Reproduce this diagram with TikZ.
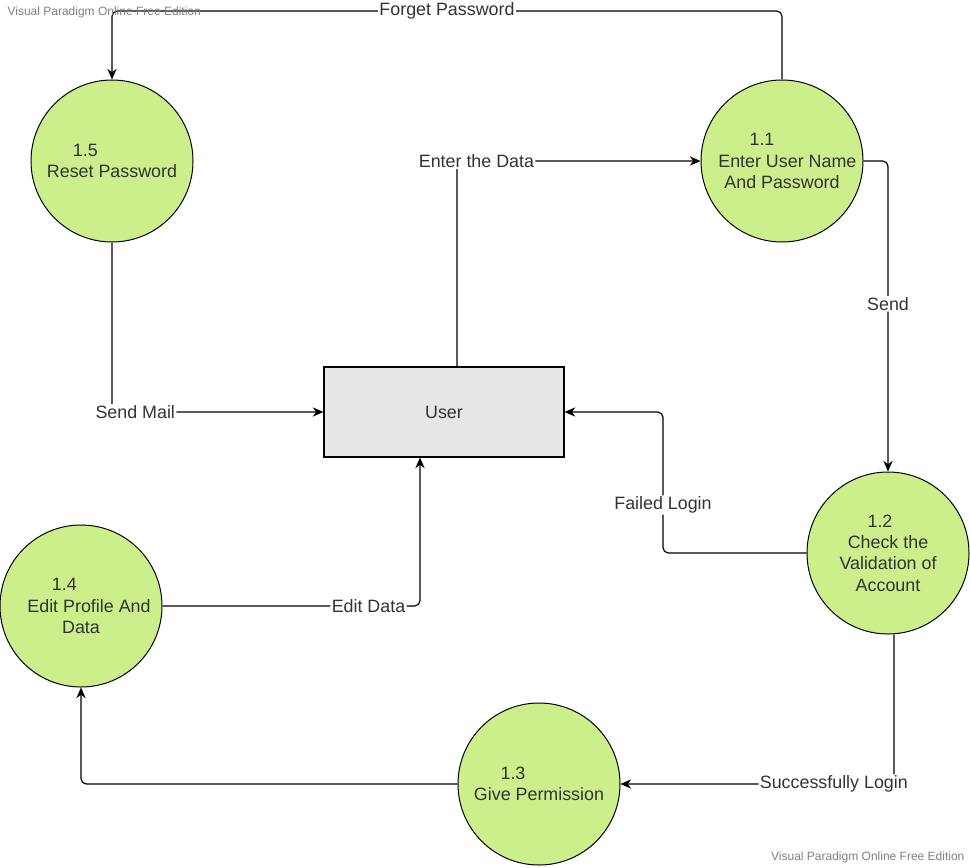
\documentclass[tikz,border=0pt]{standalone}
\usepackage{fontspec}
\setmainfont{Liberation Sans}
\usetikzlibrary{arrows.meta}
\definecolor{procgreen}{RGB}{204,239,140}
\definecolor{storegray}{RGB}{230,230,230}
\definecolor{txtgray}{RGB}{51,51,51}
\definecolor{wmgray}{RGB}{128,128,128}

\begin{document}
\begin{tikzpicture}[x=0.75pt,y=-0.75pt,line width=0.9pt,
    >={Stealth[length=8pt,width=7pt]},
    proc/.style={draw,circle,fill=procgreen,line width=0.75pt,minimum size=121.5pt,inner sep=0pt,
        align=center,text=txtgray,font=\fontsize{13.4}{16}\selectfont},
    store/.style={draw,rectangle,fill=storegray,minimum width=180pt,minimum height=67.5pt,
        text=txtgray,font=\fontsize{13.4}{16}\selectfont},
    lbl/.style={fill=white,inner sep=1pt,text=txtgray,font=\fontsize{13.4}{16}\selectfont},
    flow/.style={->,rounded corners=4pt},
    wmark/.style={inner sep=0pt,text=wmgray,font=\fontsize{9}{11}\selectfont}]

    \useasboundingbox (0,0) rectangle (970,867);

    \node[proc] (p15) at (112,161) { 1.5\hspace*{40pt}\\Reset Password };
    \node[proc] (p11) at (782,161) { 1.1\hspace*{30pt}\\\hspace*{8pt}Enter User Name\\And Password };
    \node[proc] (p12) at (888,553) { 1.2\hspace*{12pt}\\Check the\\Validation of\\Account };
    \node[proc] (p14) at (81,606) { 1.4\hspace*{25pt}\\\hspace*{12pt}Edit Profile And\\Data };
    \node[proc] (p13) at (539,784) { 1.3\hspace*{39pt}\\Give Permission };
    \node[store] (user) at (444,412) { User };

    \draw[flow] (p11.north) -- (782,11) -| node[lbl,pos=0.25] { Forget Password } (p15.north);
    \draw[flow] ([xshift=9.75pt]user.north) |- node[lbl,pos=0.54] { Enter the Data } (p11.west);
    \draw[flow] (p11.east) -| node[lbl,pos=0.73] { Send } (p12.north);
    \draw[flow] (p12.west) -- (663,553) |- node[lbl,pos=0.17] { Failed Login } (user.east);
    \draw[flow] (p15.south) |- node[lbl,pos=0.555] { Send Mail } (user.west);
    \draw[flow] (p14.east) -| node[lbl,pos=0.4] { Edit Data } ([xshift=-18pt]user.south);
    \draw[flow] ([xshift=4.5pt]p12.south) |- node[lbl,pos=0.61] { Successfully Login } (p13.east);
    \draw[flow] (p13.west) -| (p14.south);

    \node[wmark,anchor=west] (wm1) at (7,12) { Visual Paradigm Online Free Edition };
    \node[wmark,anchor=east] (wm2) at (965,857) { Visual Paradigm Online Free Edition };

\end{tikzpicture}
\end{document}
